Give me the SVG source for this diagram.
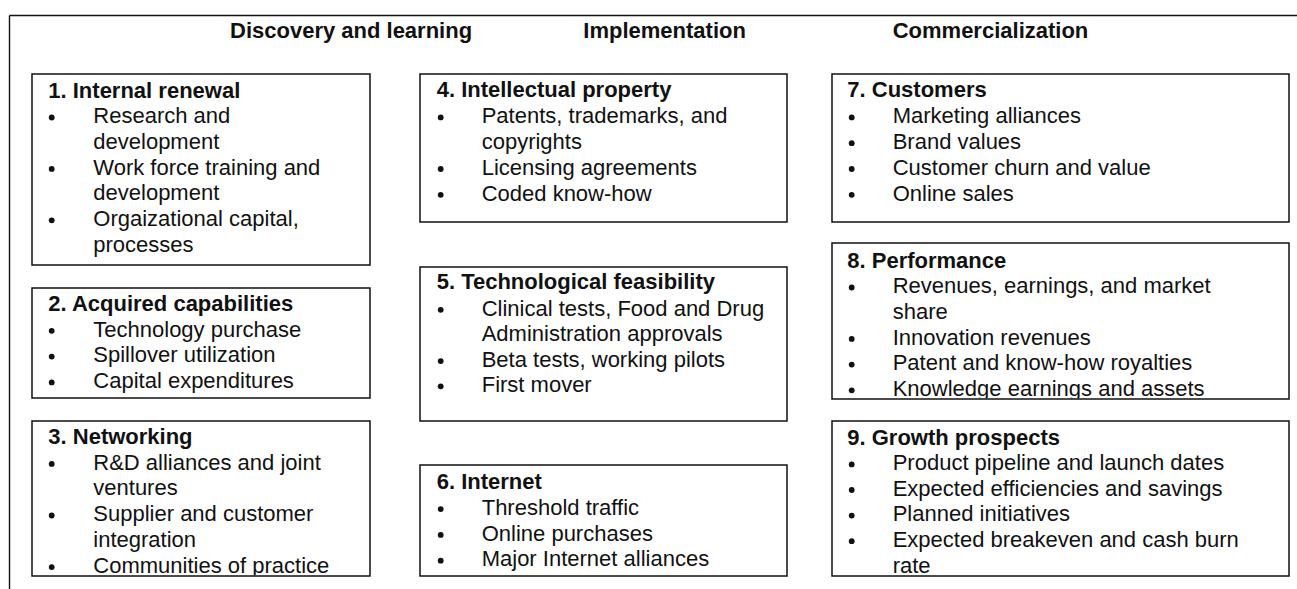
<svg xmlns="http://www.w3.org/2000/svg" width="1297" height="589" viewBox="0 0 1297 589">
  <style>
    text { font-family: "Liberation Sans", Arial, sans-serif; font-size: 22px; fill: #111; }
    .hdr, .ttl { font-weight: bold; }
    .box { fill: #fff; stroke: #111; stroke-width: 1.5; }
    .frame { fill: none; stroke: #111; stroke-width: 1.4; }
    .dot { fill: #111; }
  </style>
  <defs>
    <circle id="bul" r="2.9" class="dot"/>
    <clipPath id="clip3"><rect x="32.75" y="421.75" width="336.5" height="153.5"/></clipPath>
    <clipPath id="clip8"><rect x="832.75" y="243.75" width="455.5" height="154.5"/></clipPath>
  </defs>

  <rect width="1297" height="589" fill="#fff"/>

  <!-- open frame: top rule and left rule -->
  <g id="frame">
    <line class="frame" x1="9.5" y1="15.5" x2="1297" y2="15.5"/>
    <line class="frame" x1="9.5" y1="15.5" x2="9.5" y2="589"/>
  </g>

  <!-- column headings -->
  <g id="headings">
    <text class="hdr" x="230" y="38">Discovery and learning</text>
    <text class="hdr" x="583.3" y="38">Implementation</text>
    <text class="hdr" x="892.7" y="38">Commercialization</text>
  </g>

  <!-- column 1 -->
  <g id="n1">
    <rect class="box" x="32" y="74" width="338" height="191"/>
    <text class="ttl" x="48.3" y="97.5">1. Internal renewal</text>
    <use href="#bul" x="51.7" y="117.5"/>
    <text x="93.3" y="123.2">Research and</text>
    <text x="93.3" y="148.9">development</text>
    <use href="#bul" x="51.7" y="168.9"/>
    <text x="93.3" y="174.6">Work force training and</text>
    <text x="93.3" y="200.3">development</text>
    <use href="#bul" x="51.7" y="220.3"/>
    <text x="93.3" y="226">Orgaizational capital,</text>
    <text x="93.3" y="251.7">processes</text>
  </g>

  <g id="n2">
    <rect class="box" x="32" y="288" width="338" height="110"/>
    <text class="ttl" x="48.3" y="310.7">2. Acquired capabilities</text>
    <use href="#bul" x="51.7" y="330.8"/>
    <text x="93.3" y="336.5">Technology purchase</text>
    <use href="#bul" x="51.7" y="356.6"/>
    <text x="93.3" y="362.3">Spillover utilization</text>
    <use href="#bul" x="51.7" y="382.4"/>
    <text x="93.3" y="388.1">Capital expenditures</text>
  </g>

  <g id="n3">
    <rect class="box" x="32" y="421" width="338" height="155"/>
    <g clip-path="url(#clip3)">
      <text class="ttl" x="48.3" y="443.8">3. Networking</text>
      <use href="#bul" x="51.7" y="463.9"/>
      <text x="93.3" y="469.6">R&amp;D alliances and joint</text>
      <text x="93.3" y="495.4">ventures</text>
      <use href="#bul" x="51.7" y="515.5"/>
      <text x="93.3" y="521.2">Supplier and customer</text>
      <text x="93.3" y="547">integration</text>
      <use href="#bul" x="51.7" y="567.1"/>
      <text x="93.3" y="572.8">Communities of practice</text>
    </g>
  </g>

  <!-- column 2 -->
  <g id="n4">
    <rect class="box" x="420" y="74" width="367" height="148"/>
    <text class="ttl" x="436.7" y="97.3">4. Intellectual property</text>
    <use href="#bul" x="440.7" y="117.4"/>
    <text x="481.7" y="123.1">Patents, trademarks, and</text>
    <text x="481.7" y="148.9">copyrights</text>
    <use href="#bul" x="440.7" y="169"/>
    <text x="481.7" y="174.7">Licensing agreements</text>
    <use href="#bul" x="440.7" y="194.8"/>
    <text x="481.7" y="200.5">Coded know-how</text>
  </g>

  <g id="n5">
    <rect class="box" x="420" y="267" width="367" height="154"/>
    <text class="ttl" x="436.7" y="289">5. Technological feasibility</text>
    <use href="#bul" x="440.7" y="309.8"/>
    <text x="481.7" y="315.5">Clinical tests, Food and Drug</text>
    <text x="481.7" y="341">Administration approvals</text>
    <use href="#bul" x="440.7" y="361.1"/>
    <text x="481.7" y="366.8">Beta tests, working pilots</text>
    <use href="#bul" x="440.7" y="386.3"/>
    <text x="481.7" y="392">First mover</text>
  </g>

  <g id="n6">
    <rect class="box" x="420" y="465" width="367" height="111"/>
    <text class="ttl" x="436.7" y="489">6. Internet</text>
    <use href="#bul" x="440.7" y="509.1"/>
    <text x="481.7" y="514.8">Threshold traffic</text>
    <use href="#bul" x="440.7" y="534.9"/>
    <text x="481.7" y="540.6">Online purchases</text>
    <use href="#bul" x="440.7" y="560.7"/>
    <text x="481.7" y="566.4">Major Internet alliances</text>
  </g>

  <!-- column 3 -->
  <g id="n7">
    <rect class="box" x="832" y="74" width="457" height="148"/>
    <text class="ttl" x="847.3" y="97.3">7. Customers</text>
    <use href="#bul" x="851.7" y="117.4"/>
    <text x="892.7" y="123.1">Marketing alliances</text>
    <use href="#bul" x="851.7" y="143.2"/>
    <text x="892.7" y="148.9">Brand values</text>
    <use href="#bul" x="851.7" y="169"/>
    <text x="892.7" y="174.7">Customer churn and value</text>
    <use href="#bul" x="851.7" y="194.8"/>
    <text x="892.7" y="200.5">Online sales</text>
  </g>

  <g id="n8">
    <rect class="box" x="832" y="243" width="457" height="156"/>
    <g clip-path="url(#clip8)">
      <text class="ttl" x="847.3" y="267.5">8. Performance</text>
      <use href="#bul" x="851.7" y="287.5"/>
      <text x="892.7" y="293.2">Revenues, earnings, and market</text>
      <text x="892.7" y="318.9">share</text>
      <use href="#bul" x="851.7" y="338.9"/>
      <text x="892.7" y="344.6">Innovation revenues</text>
      <use href="#bul" x="851.7" y="364.6"/>
      <text x="892.7" y="370.3">Patent and know-how royalties</text>
      <use href="#bul" x="851.7" y="390.3"/>
      <text x="892.7" y="396">Knowledge earnings and assets</text>
    </g>
  </g>

  <g id="n9">
    <rect class="box" x="832" y="421" width="457" height="155"/>
    <text class="ttl" x="847.3" y="444.5">9. Growth prospects</text>
    <use href="#bul" x="851.7" y="464.4"/>
    <text x="892.7" y="470.1">Product pipeline and launch dates</text>
    <use href="#bul" x="851.7" y="490"/>
    <text x="892.7" y="495.7">Expected efficiencies and savings</text>
    <use href="#bul" x="851.7" y="515.6"/>
    <text x="892.7" y="521.3">Planned initiatives</text>
    <use href="#bul" x="851.7" y="541.2"/>
    <text x="892.7" y="546.9">Expected breakeven and cash burn</text>
    <text x="892.7" y="572.5">rate</text>
  </g>

  <!-- no connectors in this layout -->
  <g id="connectors"/>
</svg>
